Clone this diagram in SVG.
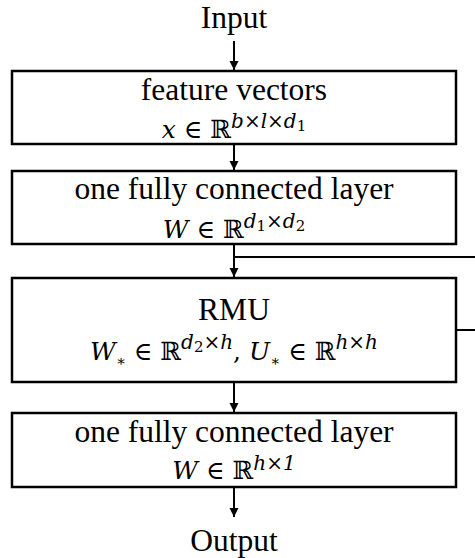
<svg xmlns="http://www.w3.org/2000/svg" width="475" height="558" viewBox="0 0 475 558">
<defs>
<style>
.box{fill:#fff;stroke:#000;stroke-width:2.5}
.lbl{font-family:'Liberation Serif','Times New Roman',serif;font-size:31.5px;fill:#000;text-anchor:middle}
.math{font-family:'DejaVu Serif',serif;font-size:25px;fill:#000;text-anchor:middle}
.it{font-style:italic}
.sup{font-size:20px;font-style:italic}
.sub{font-size:15px;font-style:normal}
.wire{fill:none;stroke:#000;stroke-width:2}
</style>
<marker id="arr" viewBox="0 0 10 10" refX="10" refY="5" markerWidth="9" markerHeight="10" markerUnits="userSpaceOnUse" orient="auto">
<path d="M0,0 L10,5 L0,10 Z" fill="#000"/>
</marker>
</defs>

<g id="input"><text class="lbl" x="234" y="28">Input</text></g>

<g id="feature-vectors">
<rect class="box" x="12" y="71" width="444" height="73"/>
<text class="lbl" x="234" y="100">feature vectors</text>
<text class="math" x="234" y="138"><tspan class="it">x</tspan> ∈ ℝ<tspan class="sup" dy="-10">b×l×d</tspan><tspan class="sub" dy="3">1</tspan></text>
</g>

<g id="fc1">
<rect class="box" x="12" y="171" width="444" height="73"/>
<text class="lbl" x="234" y="199">one fully connected layer</text>
<text class="math" x="234" y="238"><tspan class="it">W</tspan> ∈ ℝ<tspan class="sup" dy="-10">d</tspan><tspan class="sub" dy="3">1</tspan><tspan class="sup" dy="-3">×d</tspan><tspan class="sub" dy="3">2</tspan></text>
</g>

<g id="rmu">
<rect class="box" x="12" y="278" width="444" height="104"/>
<text class="lbl" x="234" y="320">RMU</text>
<text class="math" x="234" y="360"><tspan class="it">W</tspan><tspan class="sub" dy="6">∗</tspan><tspan dy="-6"> ∈ </tspan>ℝ<tspan class="sup" dy="-11">d</tspan><tspan class="sub" dy="3">2</tspan><tspan class="sup" dy="-3">×h</tspan><tspan dy="11">, </tspan><tspan class="it">U</tspan><tspan class="sub" dy="6">∗</tspan><tspan dy="-6"> ∈ </tspan>ℝ<tspan class="sup" dy="-11">h×h</tspan></text>
</g>

<g id="fc2">
<rect class="box" x="12" y="413" width="444" height="74"/>
<text class="lbl" x="234" y="442">one fully connected layer</text>
<text class="math" x="234" y="479"><tspan class="it">W</tspan> ∈ ℝ<tspan class="sup" dy="-9">h×</tspan><tspan class="sup" font-style="normal">1</tspan></text>
</g>

<g id="output"><text class="lbl" x="234" y="551">Output</text></g>

<g id="connectors">
<line class="wire" x1="234" y1="41" x2="234" y2="70" marker-end="url(#arr)"/>
<line class="wire" x1="234" y1="145" x2="234" y2="170" marker-end="url(#arr)"/>
<line class="wire" x1="234" y1="245" x2="234" y2="277" marker-end="url(#arr)"/>
<line class="wire" x1="234" y1="257" x2="475" y2="257"/>
<line class="wire" x1="457" y1="330" x2="475" y2="330"/>
<line class="wire" x1="234" y1="383" x2="234" y2="412" marker-end="url(#arr)"/>
<line class="wire" x1="234" y1="488" x2="234" y2="517" marker-end="url(#arr)"/>
</g>
</svg>
